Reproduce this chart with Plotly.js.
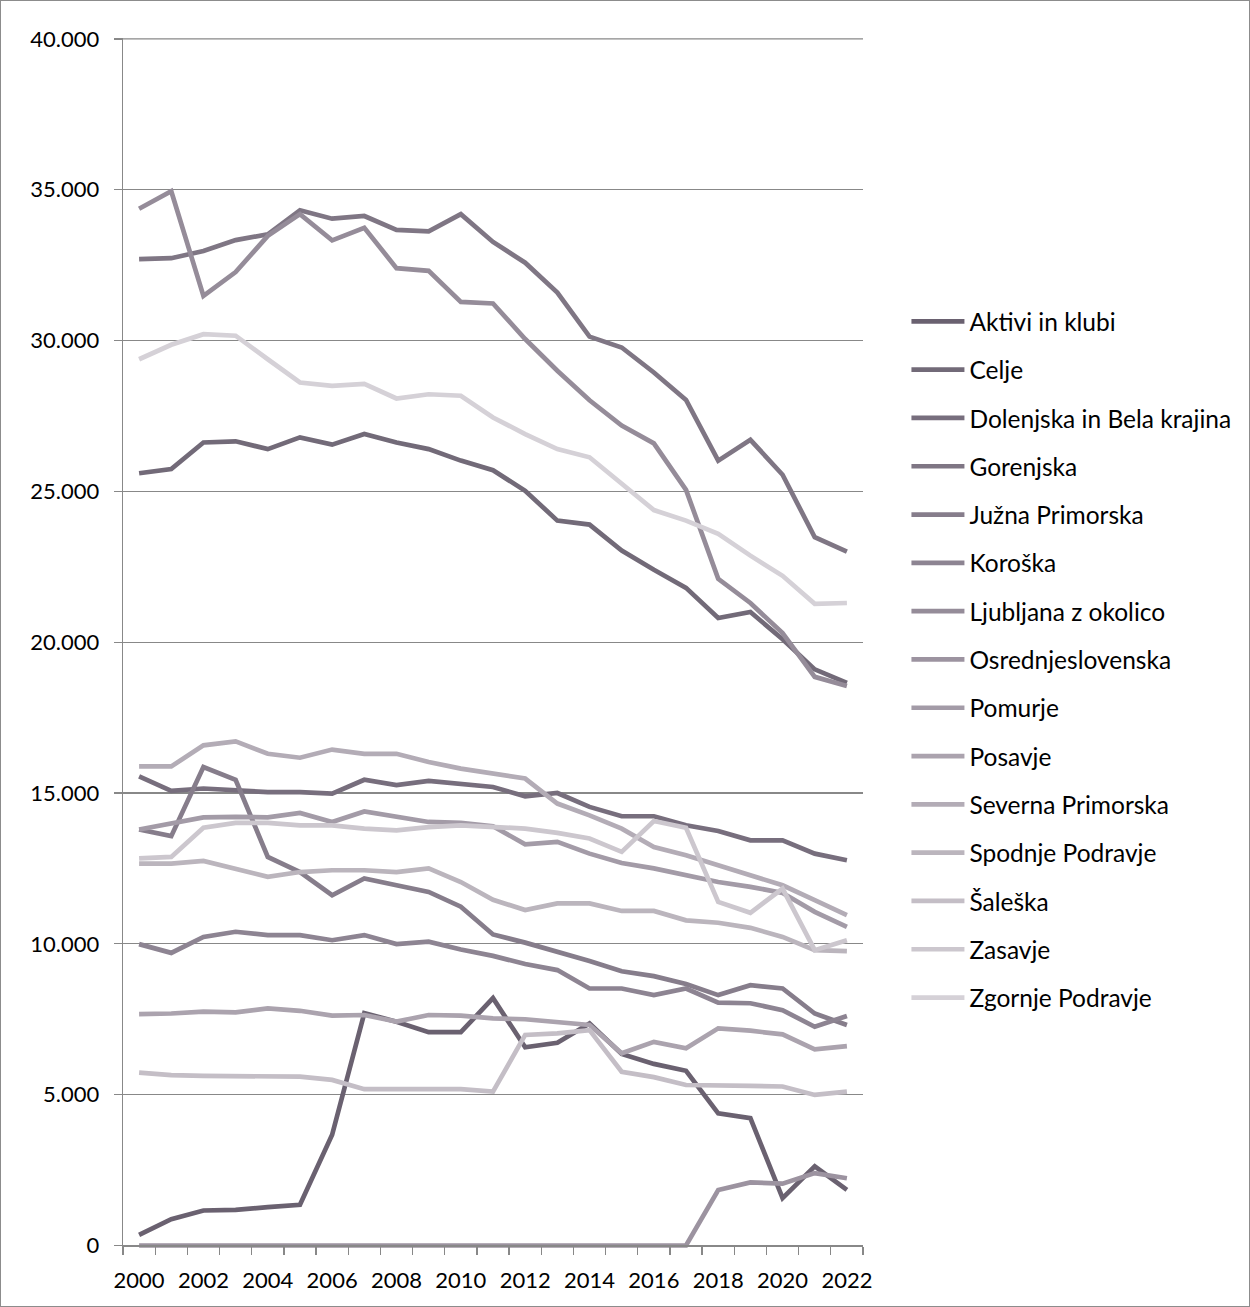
<!DOCTYPE html>
<html>
<head>
<meta charset="utf-8">
<script src="https://cdn.plot.ly/plotly-3.0.1.min.js"></script>
<style>
html,body{margin:0;padding:0;background:#fff;}
#chart{width:1250px;height:1307px;position:relative;}
#frame{position:absolute;left:0;top:0;width:1248px;height:1305px;border:1px solid #8c8c8c;pointer-events:none;}
</style>
</head>
<body>
<div id="chart"></div>
<div id="frame"></div>
<script>
const years = [2000,2001,2002,2003,2004,2005,2006,2007,2008,2009,2010,2011,2012,2013,2014,2015,2016,2017,2018,2019,2020,2021,2022];
const xTickYears = [2000,2002,2004,2006,2008,2010,2012,2014,2016,2018,2020,2022];
const yTickValues = [0,5000,10000,15000,20000,25000,30000,35000,40000];
const yMax = 40000;

const seriesNames = ["Aktivi in klubi","Celje","Dolenjska in Bela krajina","Gorenjska","Južna Primorska","Koroška","Ljubljana z okolico","Osrednjeslovenska","Pomurje","Posavje","Severna Primorska","Spodnje Podravje","Šaleška","Zasavje","Zgornje Podravje"];

const aktivi = [350,870,1160,1180,1270,1350,3670,7700,7420,7070,7070,8200,6570,6720,7360,6350,6020,5790,4380,4220,1570,2620,1840];
const celje = [25600,25740,26620,26660,26400,26790,26550,26900,26620,26400,26020,25700,25020,24030,23900,23040,22400,21800,20800,21000,20100,19100,18650];
const dolenjska = [15550,15070,15150,15090,15030,15030,14980,15440,15260,15400,15310,15200,14890,15000,14540,14230,14230,13930,13740,13430,13430,12990,12770];
const gorenjska = [32700,32730,32970,33330,33520,34320,34040,34130,33670,33620,34190,33270,32580,31590,30130,29770,28940,28030,26020,26710,25550,23480,23000];
const juznaPrimorska = [13790,13570,15860,15440,12880,12380,11610,12170,11940,11720,11230,10310,10040,9740,9430,9090,8930,8670,8300,8630,8520,7690,7310];
const koroska = [9990,9700,10230,10400,10290,10290,10120,10290,9990,10070,9810,9600,9330,9130,8520,8520,8300,8520,8050,8030,7800,7250,7610];
const ljubljana = [34370,34950,31480,32270,33470,34190,33320,33740,32400,32310,31280,31230,30050,29000,28020,27180,26590,25050,22100,21300,20300,18850,18550];
const osrednjeslovenska = [0,0,0,0,0,0,0,0,0,0,0,0,0,0,0,0,0,0,1840,2090,2050,2400,2230];
const pomurje = [13790,13990,14190,14210,14190,14340,14040,14390,14230,14040,14010,13900,13300,13380,12990,12680,12500,12270,12050,11890,11690,11060,10560];
const posavje = [7670,7690,7750,7730,7860,7780,7620,7640,7420,7640,7620,7530,7500,7420,7310,6370,6750,6540,7200,7120,7000,6500,6610];
const severnaPrimorska = [15880,15880,16580,16710,16300,16170,16440,16300,16300,16030,15810,15660,15480,14650,14260,13820,13210,12940,12610,12270,11940,11450,10950];
const spodnjePodravje = [12660,12660,12750,12500,12220,12380,12440,12440,12380,12500,12050,11460,11120,11340,11340,11090,11090,10780,10700,10530,10230,9790,9760];
const saleska = [5730,5650,5620,5620,5600,5600,5490,5180,5180,5180,5180,5100,6980,7030,7140,5760,5580,5320,5290,5290,5270,4990,5100];
const zasavje = [12830,12880,13850,14010,14010,13930,13930,13820,13760,13870,13930,13880,13820,13680,13490,13050,14070,13850,11390,11030,11830,9790,10120];
const zgornjePodravje = [29380,29860,30210,30160,29380,28610,28500,28560,28080,28220,28170,27450,26900,26400,26130,25270,24380,24030,23590,22870,22200,21270,21300];

const seriesValues = [aktivi,celje,dolenjska,gorenjska,juznaPrimorska,koroska,ljubljana,osrednjeslovenska,pomurje,posavje,severnaPrimorska,spodnjePodravje,saleska,zasavje,zgornjePodravje];
const seriesColors = ["#6a6170","#726a78","#776e7d","#7f7684","#867d8b","#8d8492","#958c99","#9c93a0","#a39ba7","#aba3ae","#b3acb6","#bbb5bd","#c4bec6","#ccc7ce","#d5d1d7"];

const FONT = "Lato, 'Open Sans', sans-serif";
const AXIS = "#888888";

const traces = seriesNames.map((name, i) => ({
  type: "scatter",
  mode: "lines",
  name: name,
  legendgroup: "g" + i,
  x: years,
  y: seriesValues[i],
  line: {color: seriesColors[i], width: 4.7, shape: "linear"},
  hoverinfo: "x+y+name"
}));

const layout = {
  width: 1250,
  height: 1307,
  paper_bgcolor: "#ffffff",
  plot_bgcolor: "#ffffff",
  separators: ",.",
  font: {family: FONT, size: 22, color: "#000000"},
  margin: {l: 123, r: 387, t: 38, b: 57, pad: 0},
  showlegend: true,
  legend: {
    x: 1.0587, xanchor: "left",
    y: 0.7847, yanchor: "top",
    traceorder: "grouped",
    tracegroupgap: 13.45,
    itemwidth: 53,
    bgcolor: "rgba(0,0,0,0)",
    borderwidth: 0,
    font: {family: FONT, size: 24.5, color: "#000000"}
  },
  shapes: [{
    type: "line", xref: "paper", yref: "y",
    x0: 0, x1: 1, y0: yMax, y1: yMax,
    line: {color: AXIS, width: 1.3}, layer: "below"
  }],
  xaxis: {
    type: "linear",
    range: [1999.5, 2022.5],
    tickmode: "array",
    tickvals: xTickYears,
    ticktext: xTickYears.map(String),
    ticks: "",
    showgrid: false,
    zeroline: false,
    showline: true,
    linecolor: AXIS,
    linewidth: 1.3,
    anchor: "free",
    position: 150 / 40180,
    ticklabelstandoff: 15,
    tickfont: {family: FONT, size: 22, color: "#000000"},
    minor: {
      ticks: "outside",
      tickmode: "linear",
      tick0: 1999.5,
      dtick: 1,
      ticklen: 8,
      tickwidth: 1.3,
      tickcolor: AXIS,
      showgrid: false
    }
  },
  yaxis: {
    range: [-150, 40030],
    tickmode: "array",
    tickvals: yTickValues,
    tickformat: ",d",
    ticks: "outside",
    ticklen: 8,
    tickwidth: 1.3,
    tickcolor: AXIS,
    showgrid: true,
    gridcolor: AXIS,
    gridwidth: 1.3,
    zeroline: false,
    showline: true,
    linecolor: AXIS,
    linewidth: 1.3,
    ticklabelstandoff: 10,
    tickfont: {family: FONT, size: 22, color: "#000000"}
  }
};

Plotly.newPlot("chart", traces, layout, {staticPlot: true, displayModeBar: false});
</script>
</body>
</html>
